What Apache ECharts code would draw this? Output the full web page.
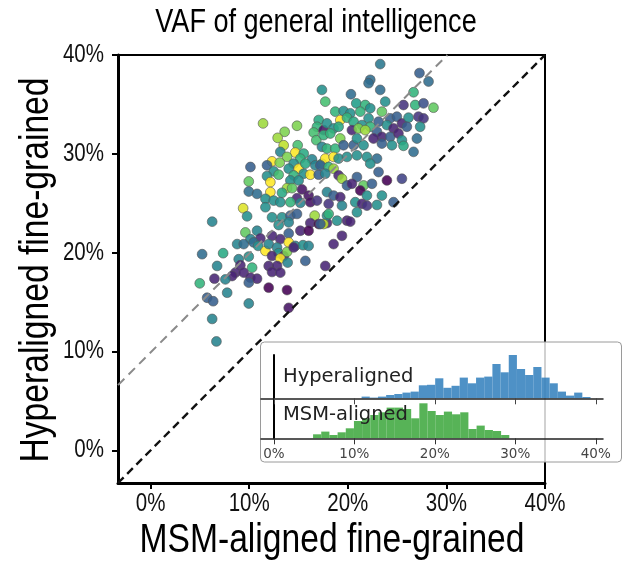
<!DOCTYPE html>
<html><head><meta charset="utf-8">
<script src="https://cdn.jsdelivr.net/npm/echarts@6/dist/echarts.min.js"></script>
<style>html,body{margin:0;padding:0;background:#fff}#c{width:625px;height:565px}</style>
</head><body><div id="c"></div>
<script>
// ---- scatter data: VAF (%) per subject ----
const msmVaf = [
11.41,14.85,17.05,16.88,13.60,12.89,13.50,16.54,16.81,14.92,17.55,13.16,14.68,13.84,12.32,13.10,15.53,16.37,15.19,14.51,
14.01,15.02,15.70,16.71,17.38,10.13,11.81,12.49,12.99,11.81,12.15,9.96,14.51,15.53,16.20,17.05,14.18,15.02,13.84,14.35,
15.36,9.96,10.80,12.15,13.33,16.03,14.85,11.65,12.49,13.16,14.18,15.19,16.20,16.88,9.39,9.79,11.65,12.32,13.33,14.18,
14.85,12.99,14.01,16.64,16.20,17.05,17.89,6.25,9.62,10.80,10.13,11.14,12.32,13.16,14.01,15.19,16.03,8.78,9.45,10.46,
10.91,11.65,11.98,12.83,14.01,14.68,15.46,16.03,12.99,13.50,13.84,14.51,12.32,13.16,13.90,15.70,5.23,7.36,6.75,8.94,
9.96,9.11,8.61,9.45,10.30,8.27,10.13,10.80,11.98,12.83,12.32,13.16,4.99,6.48,7.59,9.96,11.98,13.84,5.74,6.35,
7.77,9.96,14.01,6.25,6.68,
23.29,22.28,22.11,23.29,27.27,28.19,20.32,26.67,17.38,17.72,20.86,21.77,22.28,23.80,23.46,25.65,26.84,27.68,28.69,18.73,
19.57,20.25,21.27,19.24,19.92,20.59,22.11,23.12,24.30,24.98,25.49,26.16,27.17,27.68,17.89,18.56,19.07,21.44,22.28,23.97,
24.64,25.99,27.34,17.55,18.23,19.24,20.42,21.09,21.77,22.96,23.46,24.30,25.14,25.49,27.01,17.38,17.89,18.73,19.57,20.59,
20.93,21.60,22.61,23.46,24.48,25.65,26.67,17.72,18.56,19.07,19.92,20.93,21.94,22.96,22.28,17.22,18.06,18.56,19.07,19.41,
17.72,20.93,23.12,23.97,25.49,19.92,20.42,21.60,22.45,21.27,21.94,23.46,17.89,18.56,19.24,18.06,19.41,20.76,21.44,21.94,
22.96,24.64,17.89,18.06,17.55,18.91,19.92,20.25,20.93,19.41,18.56,17.72,17.22
];
const hyperVaf = [
33.08,32.84,33.42,32.74,32.23,31.62,30.87,32.16,31.38,30.87,32.40,30.20,30.13,29.69,29.24,29.11,30.03,29.45,29.52,29.01,
28.50,28.50,29.01,28.84,29.01,28.67,28.84,28.23,27.89,27.75,27.14,27.21,27.82,27.99,27.89,27.89,27.31,27.31,26.53,26.53,
26.40,26.19,25.95,26.13,26.06,25.78,25.51,25.45,25.27,25.11,25.11,25.04,25.11,25.27,24.50,23.68,24.60,23.58,23.58,23.75,
23.92,22.80,23.07,23.75,23.00,22.90,23.00,23.14,22.05,22.22,21.37,21.44,21.71,21.37,21.95,22.22,22.22,20.87,20.87,21.04,
20.69,20.18,20.87,20.53,21.04,20.69,20.76,20.69,19.95,19.67,20.08,20.53,19.67,19.41,19.00,19.17,19.85,19.95,18.66,19.34,
19.61,18.73,17.98,17.98,18.49,17.64,17.47,17.37,18.66,18.66,18.05,17.98,16.90,17.37,17.30,16.97,16.46,16.22,15.44,15.09,
15.95,14.86,14.42,13.30,11.02,
39.08,37.49,37.15,36.47,38.17,37.32,36.03,36.23,36.47,35.28,35.11,34.94,34.61,35.28,34.27,34.94,34.94,35.11,34.67,34.27,
34.33,34.10,34.27,33.42,33.66,33.25,33.59,33.25,33.59,33.76,33.08,33.66,33.76,33.59,33.08,32.57,32.74,32.91,32.74,32.91,
32.57,32.74,32.74,31.89,32.06,31.55,32.40,32.57,32.40,32.23,31.72,31.72,32.06,31.38,31.55,30.71,30.53,30.53,30.87,30.87,
31.55,30.87,31.55,31.04,30.87,30.81,30.20,29.52,29.69,29.52,29.69,29.85,29.69,29.52,29.01,28.84,28.67,28.50,27.82,27.48,
27.99,27.65,28.16,27.31,27.48,26.80,26.97,26.80,26.97,26.29,25.78,25.78,26.13,25.78,25.62,24.94,24.76,25.11,24.94,24.76,
24.83,25.11,23.75,23.92,22.90,23.24,23.24,23.14,24.09,21.71,20.87,18.66,22.90
];
// colour value (0..1, viridis)
const colorVal = [
.85,.8,.6,.65,.8,.85,.9,.7,.7,.7,.05,.45,1,.8,1,.8,.6,.45,.65,.5,
.5,1,.6,.45,.65,.3,.3,.5,.7,.5,1,.75,.65,.5,1,.3,.5,.5,.85,.75,
.05,.35,.35,1,.6,.05,.1,.5,.5,.5,.65,.45,.05,.15,.95,.5,.5,.5,.5,.3,
.3,.5,.45,.85,.1,0,.1,.45,.75,.45,.45,.1,.1,.1,.3,.1,0,.45,.35,.35,
.5,1,.45,.45,1,.45,.5,.45,.5,.1,.8,.1,.1,1,.45,.3,.35,.6,.45,.45,
.5,.1,.1,.1,.65,.1,.1,.1,.1,.1,.1,.1,.65,.1,.45,.3,0,0,.3,.3,
.45,.45,.05,.45,.45,
.4,.35,.35,.35,.3,.35,.35,.65,.5,.7,.55,.65,.5,.5,.75,.15,.65,.25,.75,.65,
.5,.5,.65,1,.65,.6,.5,.3,.3,.3,.1,.5,.15,.15,.5,.5,.6,.5,.65,.5,
.1,.3,.5,.65,.65,.8,.1,.8,.85,.3,.1,.3,.1,.5,.35,.45,.65,.65,.3,.3,
.5,.5,.1,.3,.5,.6,.35,1,1,.5,.5,.5,.5,.35,.5,.3,.65,.85,.1,.85,
.45,.3,.3,0,.2,.3,.1,.75,.3,0,.5,.5,.45,.3,.1,.15,.45,.5,.1,.15,
.5,.3,.5,.65,.9,.5,.1,.1,.5,.1,.1,.1,.3
];
const tickValues = [0, 10, 20, 30, 40];
// reference lines (VAF %)
const identityLine = [[-3.3, -3.3], [40, 40]];
const offsetLine = [[-3.3, 6.6], [30.1, 40]];
// inset histograms (bin counts, 1.016% wide bins)
const binWidth = 1.016;
const hyperBinStart = 10.9;
const hyperCounts = [1.7,0.7,1.7,3.3,4.3,5.7,6.7,13,13.5,20,10.5,12.5,20.7,15,20.7,21.7,34.3,26,43.3,29.3,23.3,31.3,20.7,15,6.7,2.7,5.7,1.3];
const msmBinStart = 4.87;
const msmCounts = [4,6.7,3.3,6,10,17.3,20,23.3,26,30.7,30.7,29.3,20,35,27.3,23.3,26.7,24,26,9.3,12.7,8.3,7.3,3.3];

const NARROW = "'Liberation Sans', Arial, sans-serif";
const viridis = ['#440154','#482878','#3e4989','#31688e','#26828e','#1f9e89','#35b779','#6ece58','#b5de2b','#fde725'];

const scatterData = msmVaf.map((x, i) => [x, hyperVaf[i], colorVal[i]]);
function histData(start, counts){ return counts.map((c, i) => [start + i*binWidth, start + (i+1)*binWidth, c]); }
function histItem(color){
  return function(params, api){
    const p0 = api.coord([api.value(0), 0]);
    const p1 = api.coord([api.value(1), api.value(2)]);
    return {type:'rect', shape:{x:p0[0], y:p1[1], width:p1[0]-p0[0], height:p0[1]-p1[1]},
            style:{fill:color, opacity:0.85}};
  };
}

const chart = echarts.init(document.getElementById('c'), null, {renderer:'canvas'});
chart.setOption({
  animation:false,
  backgroundColor:'#fff',
  grid:[
    {left:118, right:80, top:55, bottom:82, show:true, borderColor:'#000', borderWidth:2, backgroundColor:'transparent'},
    {left:261, width:342, top:355, height:43.3, z:10},
    {left:261, width:342, top:398.3, height:40, z:10}
  ],
  xAxis:[
    {gridIndex:0, type:'value', min:-3.3, max:40,
      axisLine:{show:true, onZero:false, lineStyle:{color:'#000', width:3}},
      axisTick:{show:true, customValues:tickValues, length:6, lineStyle:{color:'#000', width:2}},
      axisLabel:{show:false}, splitLine:{show:false}},
    {gridIndex:1, type:'value', min:-1.6, max:40.9, z:12,
      axisLine:{show:true, lineStyle:{color:'#222', width:1.5}},
      axisTick:{show:true, customValues:tickValues, length:6, lineStyle:{color:'#444', width:1}},
      axisLabel:{show:false}, splitLine:{show:false}},
    {gridIndex:2, type:'value', min:-1.6, max:40.9, z:12,
      axisLine:{show:true, lineStyle:{color:'#222', width:1.5}},
      axisTick:{show:true, customValues:tickValues, length:6, lineStyle:{color:'#333', width:1}},
      axisLabel:{customValues:tickValues, formatter:'{value}%', fontFamily:'DejaVu Sans', fontSize:13.5, color:'#444', margin:9},
      splitLine:{show:false}}
  ],
  yAxis:[
    {gridIndex:0, type:'value', min:-3.3, max:40,
      axisLine:{show:true, onZero:false, lineStyle:{color:'#000', width:3}},
      axisTick:{show:true, customValues:tickValues, length:6, lineStyle:{color:'#000', width:2}},
      axisLabel:{show:false}, splitLine:{show:false}},
    {gridIndex:1, type:'value', min:0, max:43.3, z:12,
      axisLine:{show:true, onZero:true, lineStyle:{color:'#000', width:2}},
      axisTick:{show:false}, axisLabel:{show:false}, splitLine:{show:false}},
    {gridIndex:2, type:'value', min:0, max:40, z:12,
      axisLine:{show:true, onZero:true, lineStyle:{color:'#000', width:2}},
      axisTick:{show:false}, axisLabel:{show:false}, splitLine:{show:false}}
  ],
  visualMap:{type:'continuous', show:false, min:0, max:1, dimension:2, seriesIndex:0, inRange:{color:viridis}},
  graphic:[
    {id:'title', type:'text', z:30, x:316, y:23, scaleX:0.82,
      style:{text:'VAF of general intelligence', font:"33px " + NARROW, fill:'#000', align:'center', verticalAlign:'middle'}},
    {id:'xname', type:'text', z:30, x:332, y:541, scaleX:0.82,
      style:{text:'MSM-aligned fine-grained', font:"41px " + NARROW, fill:'#000', align:'center', verticalAlign:'middle'}},
    {id:'yname', type:'text', z:30, x:37, y:270, rotation:Math.PI/2, scaleX:0.82,
      style:{text:'Hyperaligned fine-grained', font:"41px " + NARROW, fill:'#000', align:'center', verticalAlign:'middle'}},
    {id:'insetBox', type:'rect', z:8, shape:{x:260.5, y:342, width:361, height:120, r:4},
      style:{fill:'rgba(255,255,255,0.82)', stroke:'#9a9a9a', lineWidth:1}},
    {id:'hypLabel', type:'text', z:30, x:283, y:376.7, style:{text:'Hyperaligned', font:"19.5px 'DejaVu Sans'", fill:'#222', verticalAlign:'middle'}},
    {id:'msmLabel', type:'text', z:30, x:283, y:415, style:{text:'MSM-aligned', font:"19.5px 'DejaVu Sans'", fill:'#222', verticalAlign:'middle'}}
  ],
  series:[
    {type:'scatter', xAxisIndex:0, yAxisIndex:0, z:2, data:scatterData, symbolSize:9.8,
      itemStyle:{opacity:0.88, borderColor:'#555', borderWidth:0.7}},
    {type:'line', xAxisIndex:0, yAxisIndex:0, z:3, data:identityLine, symbol:'none',
      lineStyle:{color:'#111', width:2.4, type:[8,5]}},
    {type:'line', xAxisIndex:0, yAxisIndex:0, z:3, data:offsetLine, symbol:'none',
      lineStyle:{color:'#8a8a8a', width:2, type:[9,6]}},
    {type:'custom', xAxisIndex:1, yAxisIndex:1, z:10, data:histData(hyperBinStart, hyperCounts),
      renderItem:histItem('#2f7ebc')},
    {type:'custom', xAxisIndex:2, yAxisIndex:2, z:10, data:histData(msmBinStart, msmCounts),
      renderItem:histItem('#3aa63a')}
  ]
});

// main-axis tick labels in a condensed face, placed through the axes' own scales
const xAxisY = chart.convertToPixel({yAxisIndex:0}, -3.3);
const yAxisX = chart.convertToPixel({xAxisIndex:0}, -3.3);
const tickLabels = [];
tickValues.forEach(v => {
  tickLabels.push({id:'xl'+v, type:'text', z:30, x:chart.convertToPixel({xAxisIndex:0}, v), y:xAxisY + 21, scaleX:0.82,
    style:{text:v + '%', font:"25px " + NARROW, fill:'#111', align:'center', verticalAlign:'middle'}});
  tickLabels.push({id:'yl'+v, type:'text', z:30, x:yAxisX - 14, y:chart.convertToPixel({yAxisIndex:0}, v), scaleX:0.82,
    style:{text:v + '%', font:"25px " + NARROW, fill:'#111', align:'right', verticalAlign:'middle'}});
});
chart.setOption({graphic: tickLabels});
</script></body></html>
